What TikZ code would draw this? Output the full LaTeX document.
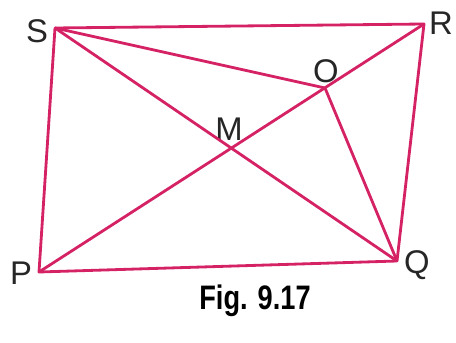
\documentclass[tikz,border=0pt]{standalone}
\usepackage{fontspec}
\setmainfont{Liberation Sans}
\usepackage{xcolor}
\usepackage{tikz}
\usetikzlibrary{positioning}
\definecolor{edgepink}{RGB}{212,34,100}

\begin{document}
\begin{tikzpicture}[x=0.03cm, y=-0.03cm,
  vlabel/.style={font=\fontsize{28}{30}\selectfont, text=black!85, inner sep=0pt},
  edge/.style={draw=edgepink, line width=2.4pt, line join=round}
]
\useasboundingbox (0,0) rectangle (456,343);
\coordinate (S) at (55,28);
\coordinate (R) at (424,24);
\coordinate (Q) at (397,261);
\coordinate (P) at (39,272);
\coordinate (O) at (325,88);
\coordinate (M) at (231,148);
\node[vlabel] (s) at (37,31)  {S};
\node[vlabel] (r) at (441,23) {R};
\node[vlabel] (q) at (417,265) {Q};
\node[vlabel] (p) at (21,273) {P};
\node[vlabel] (o) at (326,71) {O};
\node[vlabel] (m) at (229,129) {M};
\draw[edge] (S) -- (R) -- (Q) -- (P) -- cycle;
\draw[edge] (S) -- (Q);
\draw[edge] (P) -- (R);
\draw[edge] (S) -- (O) -- (Q);
\node[font=\bfseries\fontsize{29}{31}\selectfont, xscale=0.8, inner sep=0pt] (cap) at (255,301) {Fig. 9.17};
\end{tikzpicture}
\end{document}
